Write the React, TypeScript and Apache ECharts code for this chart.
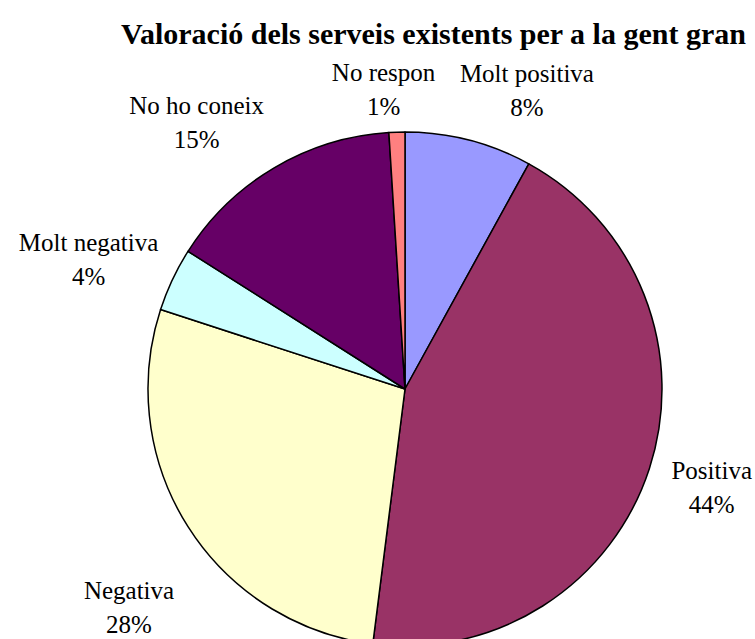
import React, { useEffect, useRef } from 'react';
import * as echarts from 'echarts';

const titleText = 'Valoració dels serveis existents per a la gent gran';
const categories = ['Molt positiva', 'Positiva', 'Negativa', 'Molt negativa', 'No ho coneix', 'No respon'];
const values = [8, 44, 28, 4, 15, 1];
const colors = ['#9999FF', '#993366', '#FFFFCC', '#CCFFFF', '#660066', '#FF8080'];

const SERIF = "'Liberation Serif', 'Times New Roman', Times, serif";

// small label nudges (px) applied after ECharts places the outside labels
const labelNudge: Record<string, [number, number]> = {
  'Molt positiva': [-19, -30],
  'Positiva': [-2, 13],
  'Negativa': [8, 70],
  'Molt negativa': [9, -12],
  'No ho coneix': [5, -28],
  'No respon': [44, -23],
};

export default function App() {
  const ref = useRef<HTMLDivElement>(null);
  useEffect(() => {
    const chart = echarts.init(ref.current!, null, { renderer: 'svg' });
    chart.setOption({
      animation: false,
      backgroundColor: '#ffffff',
      title: {
        text: titleText,
        left: 116,
        top: 13,
        textStyle: { fontFamily: SERIF, fontSize: 30, fontWeight: 'bold', color: '#000' },
      },
      series: [
        {
          type: 'pie',
          center: [405, 389],
          radius: 257,
          startAngle: 90,
          clockwise: true,
          avoidLabelOverlap: false,
          data: categories.map((name, i) => ({ name, value: values[i], itemStyle: { color: colors[i] } })),
          itemStyle: { borderColor: '#000', borderWidth: 1.5 },
          label: {
            show: true,
            position: 'outside',
            formatter: (p: any) => `${p.name}\n${Math.round(p.percent)}%`,
            fontFamily: SERIF,
            fontSize: 25,
            lineHeight: 34,
            color: '#000',
          },
          labelLine: { show: false, length: 20, length2: 0 },
          labelLayout: (params: any) => {
            const r = params.labelRect;
            const [dx, dy] = labelNudge[categories[params.dataIndex]] || [0, 0];
            return {
              x: r.x + r.width / 2 + dx,
              y: r.y + r.height / 2 + dy,
              align: 'center',
              verticalAlign: 'middle',
            };
          },
          emphasis: { disabled: true },
        },
      ],
    });
    return () => chart.dispose();
  }, []);
  return <div ref={ref} style={{ position: 'fixed', left: 0, top: 0, width: 755, height: 639 }} />;
}
